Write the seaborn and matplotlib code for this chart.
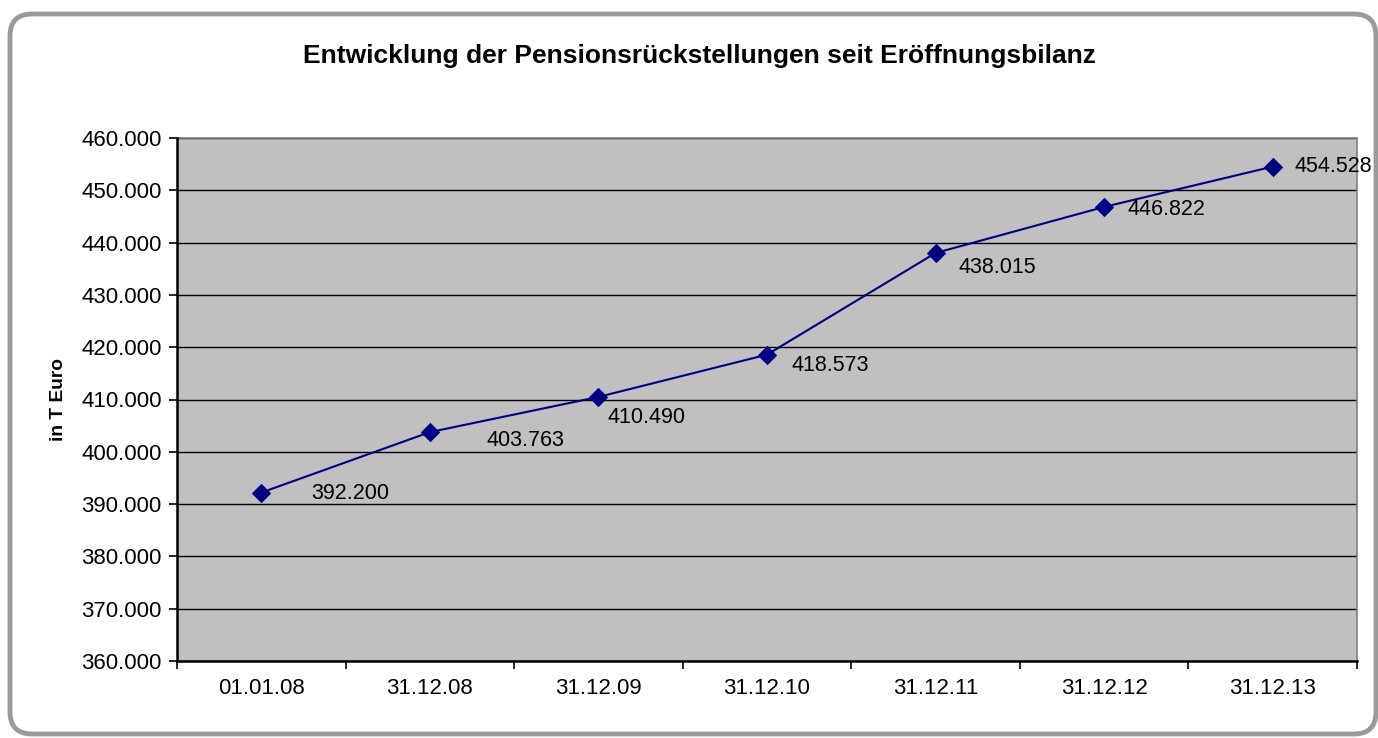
import pandas as pd
import matplotlib.pyplot as plt
import matplotlib.ticker as mticker
from matplotlib.patches import FancyBboxPatch
import seaborn as sns

# data (T Euro)
dates = ['01.01.08', '31.12.08', '31.12.09', '31.12.10', '31.12.11', '31.12.12', '31.12.13']
values = [392200, 403763, 410490, 418573, 438015, 446822, 454528]

# data label offsets in pixels
label_dx = [50, 57, 9, 24, 23, 23, 22]
label_dy = [-1, -8, -21, -11, -15, -3, 0]

df = pd.DataFrame({'Datum': dates, 'Wert': values})

sns.set_theme(style='white')
plt.rcParams['font.family'] = ['Liberation Sans', 'DejaVu Sans']

W, H = 1378, 738
fig = plt.figure(figsize=(W / 100, H / 100), dpi=100)
ax = fig.add_axes([177 / W, 1 - 661 / H, 1180 / W, 523 / H])

# rounded frame around the chart
frame = FancyBboxPatch((10 / W, 4 / H), 1366 / W, 720 / H,
                       boxstyle='round,pad=0,rounding_size=0.016',
                       transform=fig.transFigure, facecolor='white',
                       edgecolor='#9a9a9a', linewidth=3.5, zorder=-10,
                       mutation_aspect=W / H)
fig.patches.append(frame)

ax.set_facecolor('#c0c0c0')
x = list(range(len(dates)))
df['x'] = x
sns.lineplot(data=df, x='x', y='Wert', ax=ax, color='#000080', linewidth=1.5,
             marker='D', markersize=9, markeredgecolor='#000080', zorder=3)

ax.set_xlim(-0.5, len(dates) - 0.5)
ax.set_ylim(360000, 460000)
ax.yaxis.set_major_locator(mticker.MultipleLocator(10000))
ax.yaxis.set_major_formatter(mticker.FuncFormatter(lambda v, p: f'{v:,.0f}'.replace(',', '.')))
ax.set_xticks(x)
ax.set_xticklabels(dates)
ax.set_xticks([i - 0.5 for i in range(len(dates) + 1)], minor=True)
ax.tick_params(axis='x', which='major', length=0, pad=12, labelsize=16, colors='black')
ax.tick_params(axis='x', which='minor', length=6, width=1.2, direction='out', color='black', bottom=True)
ax.tick_params(axis='y', length=6, width=1.2, direction='out', color='black', left=True,
               labelsize=16, pad=5, labelcolor='black')

ax.grid(axis='y', color='black', linewidth=1)
ax.set_axisbelow(True)
for side in ['top', 'right']:
    ax.spines[side].set_color('#808080')
    ax.spines[side].set_linewidth(1.2)
for side in ['left', 'bottom']:
    ax.spines[side].set_color('black')
    ax.spines[side].set_linewidth(1.8)
    ax.spines[side].set_zorder(4)

ax.set_xlabel('')
ax.set_ylabel('in T Euro', fontsize=13.8, fontweight='bold', color='black', labelpad=10)

for i, v in enumerate(values):
    ax.annotate(f'{v:,.0f}'.replace(',', '.'), (i, v),
                xytext=(label_dx[i] * 0.72, label_dy[i] * 0.72), textcoords='offset points',
                ha='left', va='center', fontsize=15.5, color='black', zorder=5,
                annotation_clip=False)

fig.text(699 / W, 1 - 56 / H, 'Entwicklung der Pensionsrückstellungen seit Eröffnungsbilanz',
         ha='center', va='center', fontsize=19, fontweight='bold', color='black')

fig.savefig('out.png', dpi=100)
